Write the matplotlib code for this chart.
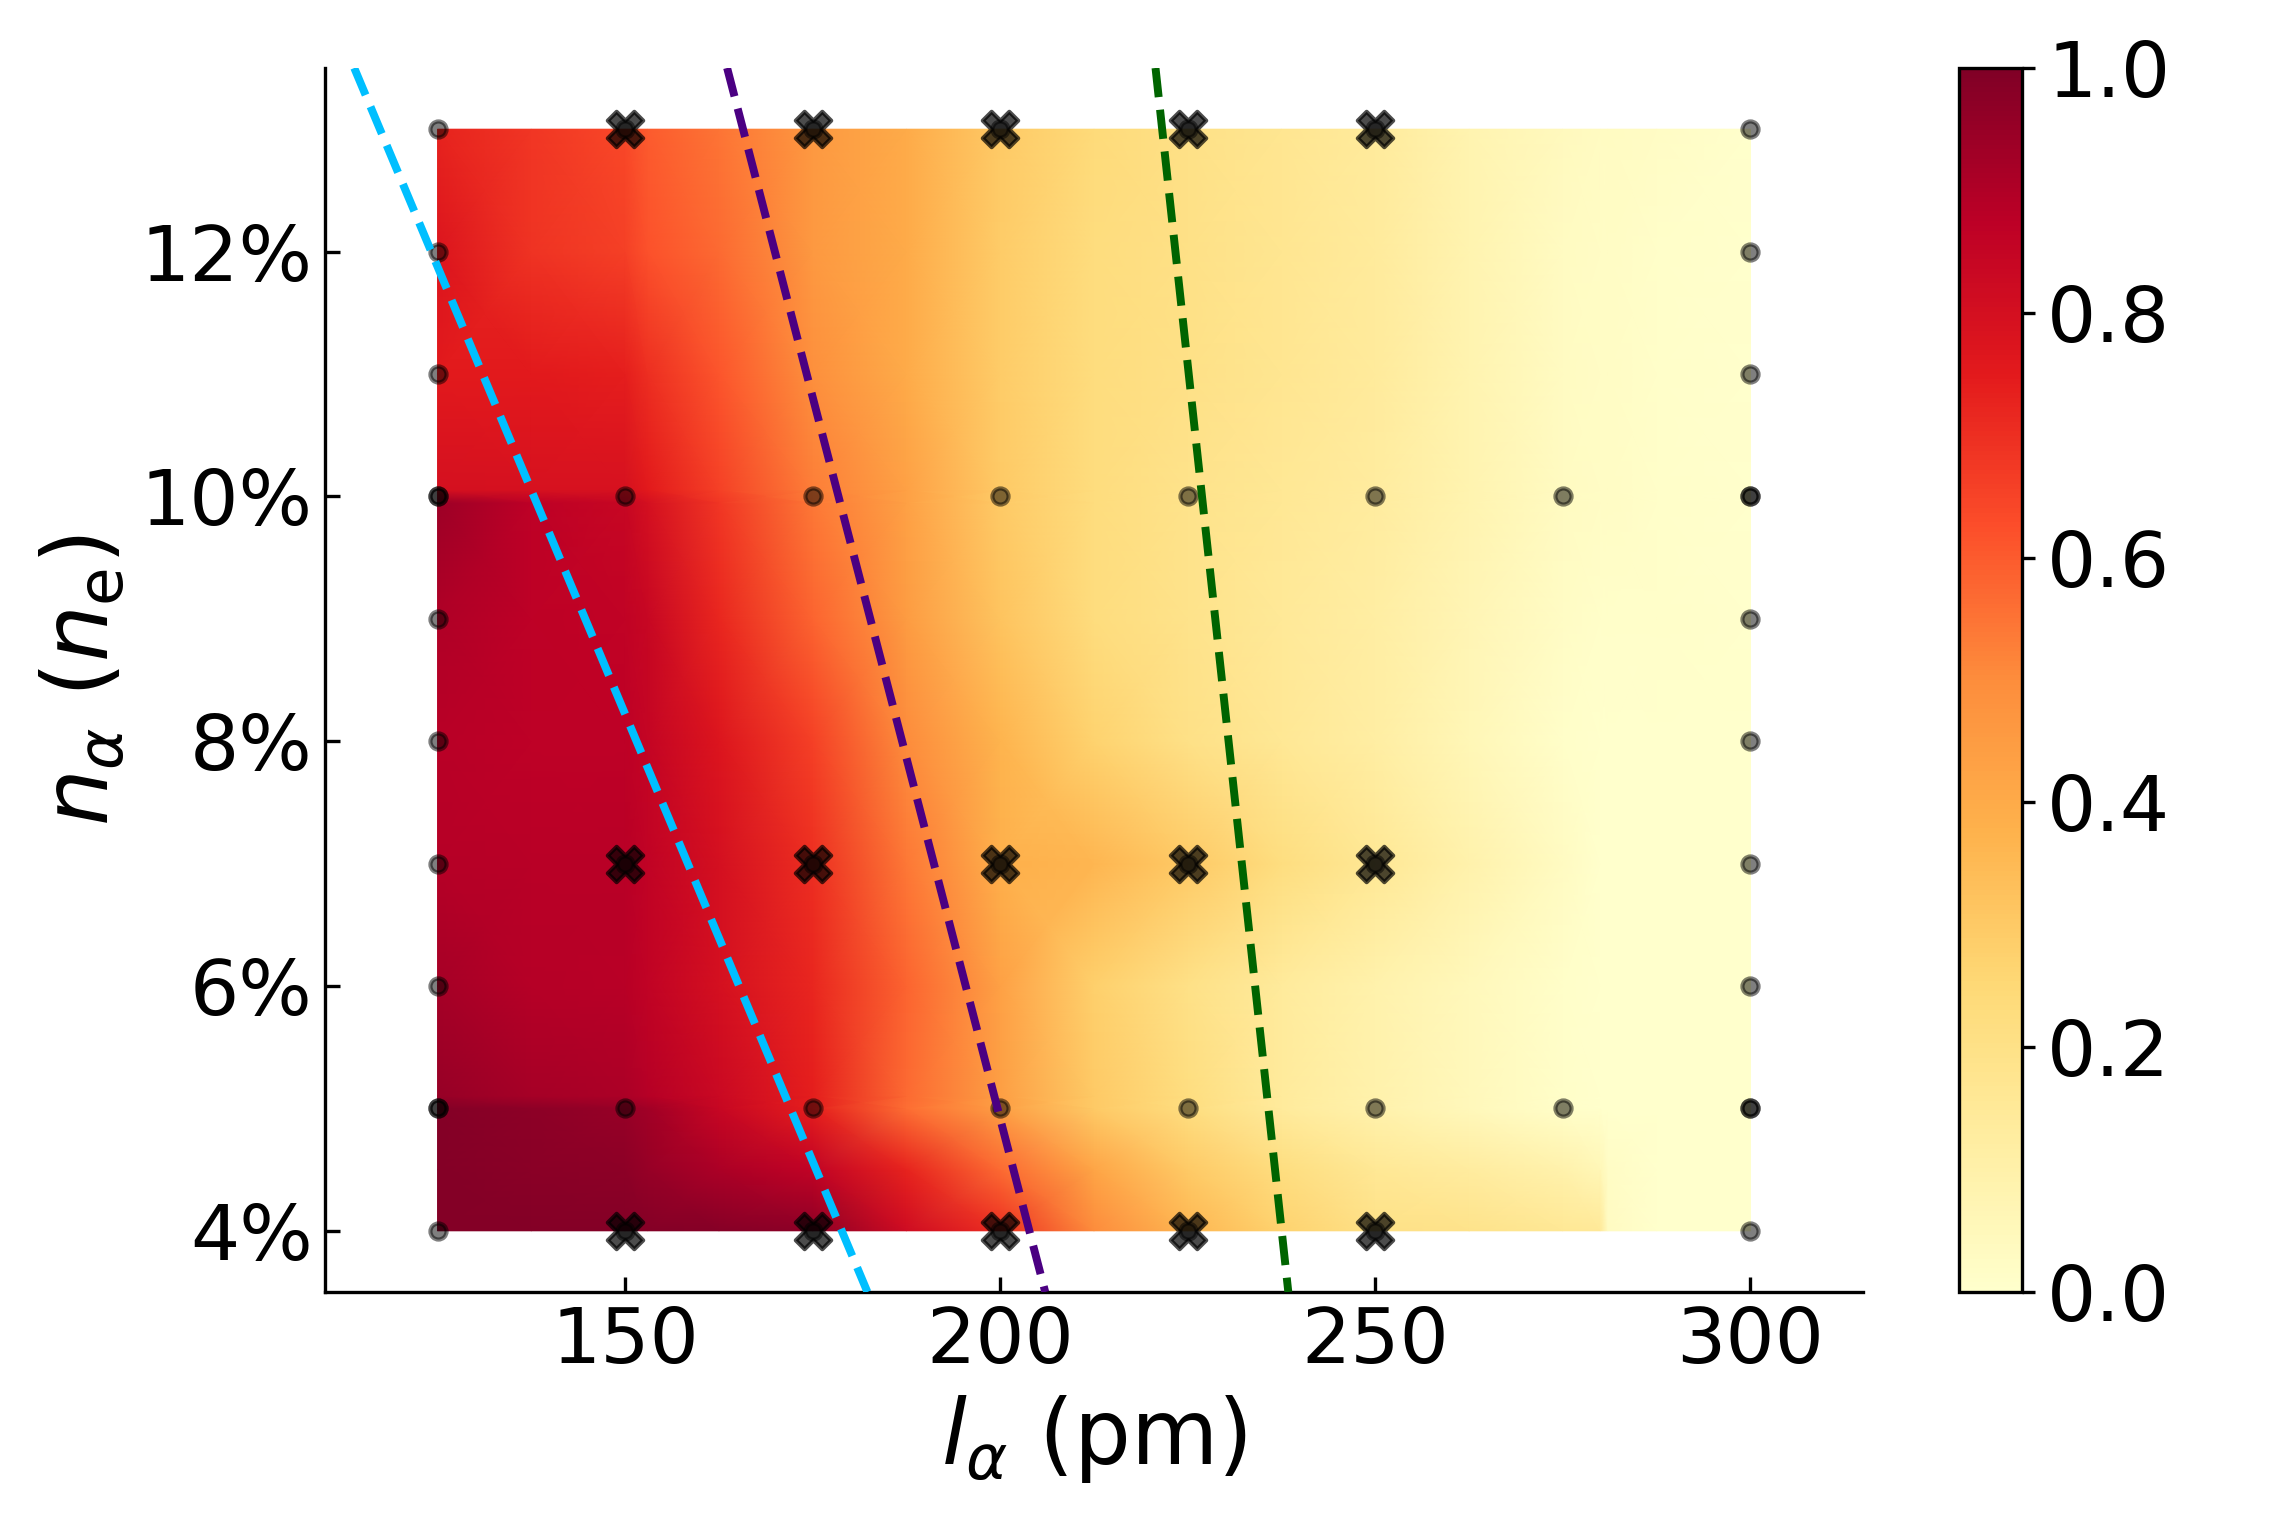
import numpy as np
import matplotlib
matplotlib.use("Agg")
import matplotlib.pyplot as plt

# heatmap table (rows bottom to top)
L_GRID = [125, 137.5, 150, 153, 162.5, 175, 187.5, 200, 212.5, 225, 237.5, 250, 262.5, 275, 280, 281, 287.5, 300]
N_GRID = [4, 4.5, 5, 5.1, 6, 7, 8, 9, 9.95, 10.05, 11, 12, 13]
Z = [
    [.99, .99, .99, .99, .985, .97, .82, .70, .50, .36, .27, .20, .19, .16, .15, .03, .00, .00],
    [.99, .98, .97, .95, .91, .86, .73, .57, .42, .30, .22, .16, .13, .09, .06, .02, .00, .00],
    [.99, .97, .95, .93, .84, .74, .56, .44, .30, .22, .14, .09, .05, .01, .00, .00, .00, .00],
    [.95, .92, .91, .89, .83, .74, .57, .44, .30, .22, .14, .09, .05, .01, .00, .00, .00, .00],
    [.92, .89, .88, .86, .80, .72, .58, .43, .28, .20, .14, .09, .05, .01, .00, .00, .00, .00],
    [.89, .88, .88, .86, .80, .70, .54, .38, .36, .30, .22, .16, .09, .03, .00, .00, .00, .00],
    [.88, .87, .87, .85, .77, .66, .50, .37, .27, .20, .16, .12, .06, .01, .00, .00, .00, .00],
    [.90, .87, .86, .84, .72, .58, .45, .32, .23, .19, .15, .12, .07, .02, .01, .01, .01, .00],
    [.94, .87, .84, .80, .68, .54, .43, .30, .23, .19, .16, .13, .08, .03, .02, .02, .01, .00],
    [.80, .79, .79, .75, .66, .53, .43, .30, .23, .19, .16, .13, .08, .03, .02, .02, .01, .00],
    [.75, .75, .74, .70, .61, .49, .40, .29, .23, .20, .17, .14, .08, .03, .02, .02, .01, .00],
    [.77, .69, .66, .62, .57, .46, .40, .29, .23, .20, .17, .14, .08, .03, .02, .02, .01, .00],
    [.73, .68, .64, .60, .55, .46, .40, .30, .24, .20, .17, .14, .08, .04, .03, .03, .02, .00],
]

# simulated points
DOT_L = [125] * 10 + [300] * 10 + [125, 150, 175, 200, 225, 250, 275, 300] * 2 + [150, 175, 200, 225, 250] * 3
DOT_N = list(range(4, 14)) * 2 + [10] * 8 + [5] * 8 + [4] * 5 + [7] * 5 + [13] * 5
CROSS_L = [150, 175, 200, 225, 250] * 3
CROSS_N = [4] * 5 + [7] * 5 + [13] * 5

# dashed limits, (l at top, l at bottom)
LINE_N = [13.5, 3.5]
LINE_CYAN = [113.9, 182.3]
LINE_INDIGO = [163.6, 206.0]
LINE_GREEN = [220.7, 238.4]

X_TICKS = [150, 200, 250, 300]
Y_TICKS = [4, 6, 8, 10, 12]
Y_LABELS = ["4%", "6%", "8%", "10%", "12%"]
CBAR_TICKS = [0, 0.2, 0.4, 0.6, 0.8, 1.0]

W, H = 2286, 1524
fig = plt.figure(figsize=(W / 300, H / 300), dpi=300)
ax = fig.add_axes([325 / W, 1 - 1292 / H, (1863 - 325) / W, (1292 - 68) / H])
cax = fig.add_axes([1959 / W, 1 - 1292 / H, (2022 - 1959) / W, (1292 - 68) / H])

mesh = ax.pcolormesh(L_GRID, N_GRID, np.array(Z), cmap="YlOrRd", vmin=0, vmax=1,
                     shading="gouraud", rasterized=True)

ax.scatter(DOT_L, DOT_N, s=15, color="black", alpha=0.5, zorder=3, clip_on=False)
ax.scatter(CROSS_L, CROSS_N, s=72, marker="X", color="black", alpha=0.7, zorder=3, clip_on=False)

ax.plot(LINE_CYAN, LINE_N, "--", color="deepskyblue", lw=1.9, zorder=4)
ax.plot(LINE_INDIGO, LINE_N, "--", color="indigo", lw=1.9, zorder=4)
ax.plot(LINE_GREEN, LINE_N, "--", color="darkgreen", lw=1.9, zorder=4)

ax.set_xlim(110, 315)
ax.set_ylim(3.5, 13.5)
ax.set_xticks(X_TICKS)
ax.set_yticks(Y_TICKS)
ax.set_yticklabels(Y_LABELS)
ax.tick_params(direction="in", labelsize=18.6, length=3.5, width=0.8, pad=3)
ax.spines["top"].set_visible(False)
ax.spines["right"].set_visible(False)
ax.set_xlabel(r"$l_\alpha$ (pm)", fontsize=21.5, labelpad=3.5)
ax.set_ylabel(r"$n_\alpha$ ($n_{\rm e}$)", fontsize=21.5, labelpad=3)

cbar = fig.colorbar(mesh, cax=cax, ticks=CBAR_TICKS)
cbar.ax.tick_params(labelsize=18.6, length=3, width=0.8, pad=3)

fig.savefig("out.png", dpi=300)
